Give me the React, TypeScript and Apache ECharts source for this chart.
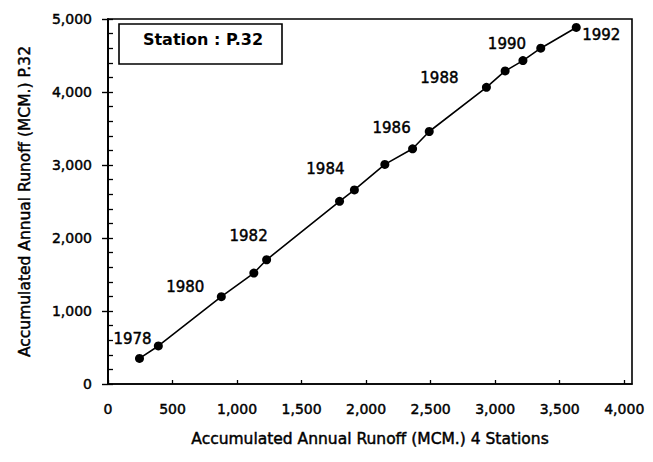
import React, { useEffect, useRef } from "react";
import * as echarts from "echarts";

const years = [1978, 1979, 1980, 1981, 1982, 1983, 1984, 1985, 1986, 1987, 1988, 1989, 1990, 1991, 1992];
const runoff4Stations = [244, 390, 878, 1130, 1229, 1794, 1909, 2145, 2360, 2489, 2932, 3077, 3215, 3353, 3628];
const runoffP32 = [351, 521, 1196, 1520, 1702, 2503, 2658, 3008, 3222, 3459, 4064, 4288, 4430, 4600, 4884];
const labelledYears = [1978, 1980, 1982, 1984, 1986, 1988, 1990, 1992];
const xTicks = [0, 500, 1000, 1500, 2000, 2500, 3000, 3500, 4000];
const yTicks = [0, 1000, 2000, 3000, 4000, 5000];
const yMinorStep = 200;
const xAxisEnd = 4060; // frame extends slightly beyond the last tick
const stationLabel = "Station : P.32";
const xName = "Accumulated Annual Runoff (MCM.) 4 Stations";
const yName = "Accumulated Annual Runoff (MCM.) P.32";

// label offsets (style only), keyed by year
const labelOffsets: Record<number, [number, number]> = {
  1978: [-7, -19],
  1980: [-36, -10],
  1982: [-18, -24],
  1984: [-29, -21],
  1986: [-21, -21],
  1988: [-47, -9],
  1990: [-16, -17],
  1992: [25, 8],
};

const FONT = "DejaVu Sans";
const HEAVY = { textBorderColor: "#000", textBorderWidth: 0.45 };
const fmt = (v: number) => v.toLocaleString("en-US");
const GRID = { left: 108, top: 19, width: 524, height: 365 };

export default function App() {
  const ref = useRef<HTMLDivElement>(null);
  useEffect(() => {
    if (!ref.current) return;
    const chart = echarts.init(ref.current, null, { renderer: "svg" });
    const data = years.map((yr, i) => {
      const item: any = { value: [runoff4Stations[i], runoffP32[i]] };
      if (labelledYears.includes(yr)) {
        const off = labelOffsets[yr] || [0, -15];
        item.label = {
          show: true,
          formatter: String(yr),
          position: "inside",
          offset: off,
          align: "center",
          verticalAlign: "middle",
          color: "#000",
          fontFamily: FONT,
          fontSize: 15,
          ...HEAVY,
        };
      }
      return item;
    });
    chart.setOption({
      animation: false,
      backgroundColor: "#fff",
      grid: {
        ...GRID,
        show: true,
        borderColor: "#000",
        borderWidth: 1.6,
        backgroundColor: "transparent",
      },
      xAxis: {
        type: "value",
        min: xTicks[0],
        max: xAxisEnd,
        interval: 500,
        name: xName,
        nameLocation: "middle",
        nameGap: 47,
        nameTextStyle: { color: "#000", fontFamily: FONT, fontSize: 15.5, ...HEAVY },
        axisLine: { show: true, lineStyle: { color: "#000", width: 1.6 } },
        axisTick: { show: true, inside: true, length: 4, lineStyle: { color: "#000", width: 1.3 } },
        axisLabel: {
          color: "#000",
          fontFamily: FONT,
          fontSize: 14,
          margin: 18,
          showMaxLabel: false,
          formatter: (v: number) => (xTicks.includes(v) ? fmt(v) : ""),
          ...HEAVY,
        },
        splitLine: { show: false },
      },
      yAxis: [
        {
          type: "value",
          min: yTicks[0],
          max: yTicks[yTicks.length - 1],
          interval: 1000,
          position: "left",
          name: yName,
          nameLocation: "middle",
          nameGap: 75,
          nameTextStyle: { color: "#000", fontFamily: FONT, fontSize: 15.5, ...HEAVY },
          axisLine: { show: true, onZero: false, lineStyle: { color: "#000", width: 1.6 } },
          axisTick: { show: true, inside: false, length: 6, lineStyle: { color: "#000", width: 1.4 } },
          axisLabel: { color: "#000", fontFamily: FONT, fontSize: 14, margin: 16, formatter: (v: number) => fmt(v), ...HEAVY },
          splitLine: { show: false },
        },
        {
          // small ticks pointing into the plot from the left axis
          type: "value",
          min: yTicks[0],
          max: yTicks[yTicks.length - 1],
          interval: yMinorStep,
          position: "right",
          offset: -GRID.width,
          axisLine: { show: true, onZero: false, lineStyle: { color: "#000", width: 1.6 } },
          axisLabel: { show: false },
          axisTick: { show: true, inside: false, length: 5, lineStyle: { color: "#000", width: 1.3 } },
          splitLine: { show: false },
        },
      ],
      graphic: [
        {
          type: "rect",
          shape: { x: 119, y: 24, width: 163, height: 40 },
          style: { fill: "#fff", stroke: "#000", lineWidth: 1.6 },
          z: 10,
        },
        {
          type: "text",
          x: 203,
          y: 39,
          style: {
            text: stationLabel,
            fill: "#000",
            font: `bold 16px "${FONT}"`,
            align: "center",
            verticalAlign: "middle",
          },
          z: 11,
        },
      ],
      series: [
        {
          type: "line",
          data,
          xAxisIndex: 0,
          yAxisIndex: 0,
          symbol: "circle",
          symbolSize: 9,
          showSymbol: true,
          lineStyle: { color: "#000", width: 1.6 },
          itemStyle: { color: "#000" },
          label: { show: false },
        },
      ],
    });
    return () => chart.dispose();
  }, []);
  return <div ref={ref} style={{ width: 653, height: 462, margin: -8 }} />;
}
